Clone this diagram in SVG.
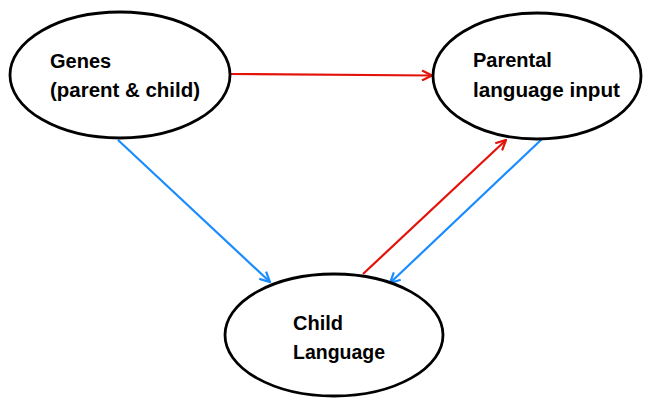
<svg xmlns="http://www.w3.org/2000/svg" width="645" height="399" viewBox="0 0 645 399">
<style>
.node ellipse{fill:#fff;stroke:#000;stroke-width:2.8}
.lbl{font-family:"Liberation Sans",Arial,sans-serif;font-weight:bold;font-size:20px;fill:#000}
.red{stroke:#e3130b;stroke-width:2.2;fill:none}
.blue{stroke:#1a8cff;stroke-width:2.2;fill:none}
</style>
<defs>
<marker id="ar" viewBox="0 0 12 12" refX="11" refY="6" markerWidth="12" markerHeight="12" markerUnits="userSpaceOnUse" orient="auto">
<path d="M1,1 L11,6 L1,11" fill="none" stroke="#e3130b" stroke-width="2.2"/>
</marker>
<marker id="ab" viewBox="0 0 12 12" refX="11" refY="6" markerWidth="12" markerHeight="12" markerUnits="userSpaceOnUse" orient="auto">
<path d="M1,1 L11,6 L1,11" fill="none" stroke="#1a8cff" stroke-width="2.2"/>
</marker>
</defs>
<g id="connectors">
<line class="red" x1="231" y1="74" x2="432" y2="75.5" marker-end="url(#ar)"/>
<line class="blue" x1="118" y1="140" x2="270" y2="282" marker-end="url(#ab)"/>
<line class="red" x1="363" y1="274" x2="506" y2="140" marker-end="url(#ar)"/>
<line class="blue" x1="542" y1="139" x2="390" y2="283" marker-end="url(#ab)"/>
</g>
<g id="genes" class="node">
<ellipse cx="120" cy="75" rx="110" ry="63"/>
<text class="lbl" x="50" y="68">Genes</text>
<text class="lbl" x="50" y="97" textLength="150" lengthAdjust="spacingAndGlyphs">(parent &amp; child)</text>
</g>
<g id="parental" class="node">
<ellipse cx="537" cy="76" rx="104" ry="63"/>
<text class="lbl" x="473" y="67">Parental</text>
<text class="lbl" x="473" y="97" textLength="147" lengthAdjust="spacingAndGlyphs">language input</text>
</g>
<g id="child" class="node">
<ellipse cx="334" cy="335" rx="109" ry="61"/>
<text class="lbl" x="293" y="330">Child</text>
<text class="lbl" x="293" y="359" textLength="92" lengthAdjust="spacingAndGlyphs">Language</text>
</g>
</svg>
